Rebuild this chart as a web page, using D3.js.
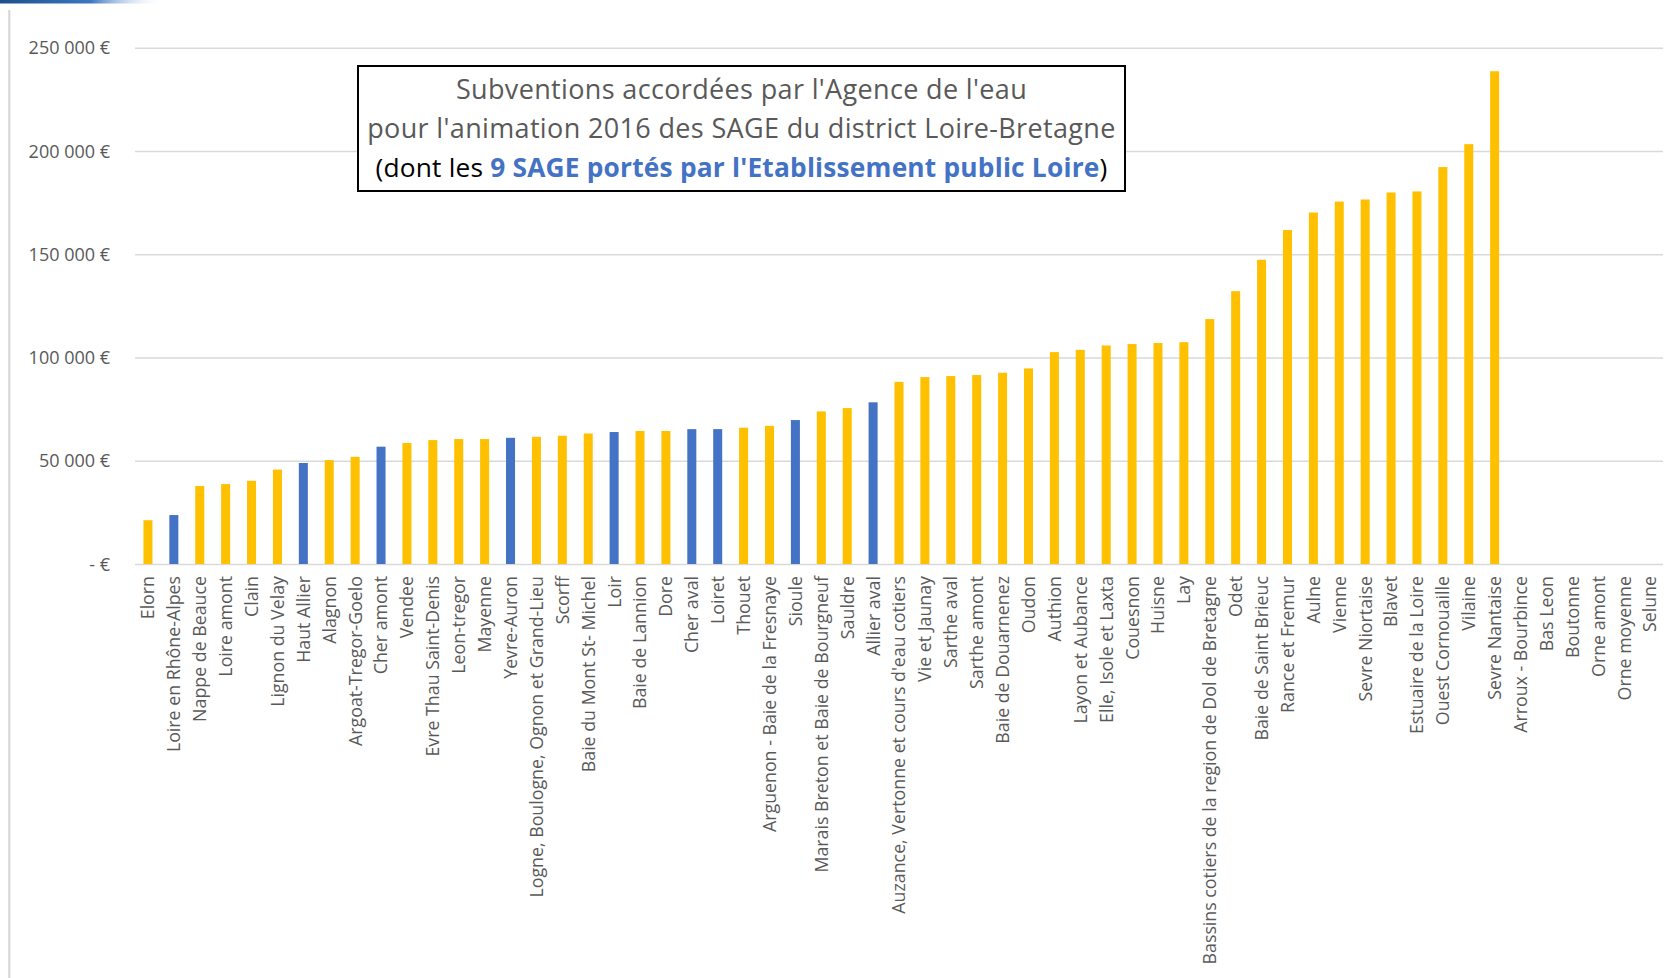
<!DOCTYPE html>
<html>
<head>
<meta charset="utf-8">
<script src="https://cdn.jsdelivr.net/npm/d3@7"></script>
<style>
  html, body { margin: 0; padding: 0; background: #ffffff; }
  svg { display: block; }
</style>
</head>
<body>
<svg id="chart" width="1676" height="978"></svg>
<script>
// ---- DATA ----
const categories = [
  "Elorn", "Loire en Rhône-Alpes", "Nappe de Beauce", "Loire amont", "Clain",
  "Lignon du Velay", "Haut Allier", "Alagnon", "Argoat-Tregor-Goelo", "Cher amont",
  "Vendee", "Evre Thau Saint-Denis", "Leon-tregor", "Mayenne", "Yevre-Auron",
  "Logne, Boulogne, Ognon et Grand-Lieu", "Scorff", "Baie du Mont St- Michel", "Loir", "Baie de Lannion",
  "Dore", "Cher aval", "Loiret", "Thouet", "Arguenon - Baie de la Fresnaye",
  "Sioule", "Marais Breton et Baie de Bourgneuf", "Sauldre", "Allier aval", "Auzance, Vertonne et cours d'eau cotiers",
  "Vie et Jaunay", "Sarthe aval", "Sarthe amont", "Baie de Douarnenez", "Oudon",
  "Authion", "Layon et Aubance", "Elle, Isole et Laxta", "Couesnon", "Huisne",
  "Lay", "Bassins cotiers de la region de Dol de Bretagne", "Odet", "Baie de Saint Brieuc", "Rance et Fremur",
  "Aulne", "Vienne", "Sevre Niortaise", "Blavet", "Estuaire de la Loire",
  "Ouest Cornouaille", "Vilaine", "Sevre Nantaise", "Arroux - Bourbince", "Bas Leon",
  "Boutonne", "Orne amont", "Orne moyenne", "Selune"
];
const values = [
  21200, 23700, 37800, 38700, 40300,
  45700, 48900, 50300, 51900, 56800,
  58600, 60000, 60500, 60500, 61100,
  61600, 62100, 63200, 63900, 64400,
  64400, 65300, 65300, 66000, 66900,
  69700, 73900, 75500, 78300, 88200,
  90500, 91000, 91500, 92600, 94700,
  102600, 103700, 105800, 106500, 107000,
  107400, 118600, 132100, 147300, 161700,
  170200, 175500, 176500, 179900, 180400,
  192200, 203300, 238600, 0, 0,
  0, 0, 0, 0
];
// SAGE portés par l'Etablissement public Loire
const eplSage = ["Loire en Rhône-Alpes", "Haut Allier", "Cher amont", "Yevre-Auron", "Loir",
                 "Cher aval", "Loiret", "Sioule", "Allier aval"];
const yTicks = [0, 50000, 100000, 150000, 200000, 250000];
const yTickLabels = ["- €", "50 000 €", "100 000 €", "150 000 €", "200 000 €", "250 000 €"];
const titleLines = [
  "Subventions accordées par l'Agence de l'eau",
  "pour l'animation 2016 des SAGE du district Loire-Bretagne"
];
const titleLine3 = ["(dont les ", "9 SAGE portés par l'Etablissement public Loire", ")"];

// ---- DRAW ----
const svg = d3.select("#chart");
const W = 1676, H = 978;
const plot = { left: 135, right: 1663, top: 47.7, bottom: 564 };
const FONT = "'Open Sans', 'DejaVu Sans', sans-serif";

// decorative top strip
const defs = svg.append("defs");
const grad = defs.append("linearGradient").attr("id", "topStrip").attr("x1", 0).attr("x2", 1);
grad.append("stop").attr("offset", 0).attr("stop-color", "#1f4e8c");
grad.append("stop").attr("offset", 0.55).attr("stop-color", "#3a78c0");
grad.append("stop").attr("offset", 1).attr("stop-color", "#ffffff").attr("stop-opacity", 0);
svg.append("rect").attr("x", 0).attr("y", 0).attr("width", 165).attr("height", 3.5).attr("fill", "url(#topStrip)");

// left border line
svg.append("line").attr("x1", 9.3).attr("x2", 9.3).attr("y1", 10).attr("y2", H)
  .attr("stroke", "#d4d4d4").attr("stroke-width", 2);

const x = d3.scaleBand().domain(categories).range([plot.left, plot.right])
  .paddingInner(0.652).paddingOuter(0.326);
const y = d3.scaleLinear().domain([0, 250000]).range([plot.bottom, plot.top]);

// gridlines
const yAxis = d3.axisLeft(y).tickValues(yTicks)
  .tickSize(-(plot.right - plot.left))
  .tickPadding(25)
  .tickFormat((d, i) => yTickLabels[i]);
const gy = svg.append("g").attr("transform", `translate(${plot.left},0)`).call(yAxis);
gy.select(".domain").remove();
gy.selectAll(".tick line").attr("stroke", "#d9d9d9").attr("stroke-width", 1.4);
gy.selectAll(".tick text").attr("fill", "#595959").attr("font-family", FONT)
  .attr("font-size", 18).attr("dy", "0.34em");

// bars
svg.append("g").selectAll("rect")
  .data(categories.map((c, i) => ({ c, v: values[i] })).filter(d => d.v > 0))
  .join("rect")
  .attr("x", d => x(d.c))
  .attr("width", x.bandwidth())
  .attr("y", d => y(d.v))
  .attr("height", d => y(0) - y(d.v))
  .attr("fill", d => eplSage.includes(d.c) ? "#4472C4" : "#FFC000");

// x labels
const xAxis = d3.axisBottom(x).tickSize(0).tickPadding(0);
const gx = svg.append("g").attr("transform", `translate(0,${plot.bottom})`).call(xAxis);
gx.select(".domain").remove();
gx.selectAll(".tick text")
  .attr("fill", "#595959").attr("font-family", FONT).attr("font-size", 17.8)
  .attr("text-anchor", "end")
  .attr("transform", "rotate(-90)")
  .attr("x", -12).attr("y", 0).attr("dy", "0.36em");

// title box
const box = { x: 358, y: 66, w: 767, h: 125 };
svg.append("rect").attr("x", box.x).attr("y", box.y).attr("width", box.w).attr("height", box.h)
  .attr("fill", "#ffffff").attr("stroke", "#000000").attr("stroke-width", 2);
const cx = box.x + box.w / 2;
const tg = svg.append("g").attr("font-family", FONT).attr("font-size", 27).attr("text-anchor", "middle");
titleLines.forEach((t, i) => {
  tg.append("text").attr("x", cx).attr("y", 99 + i * 38.5).attr("fill", "#595959")
    .attr("letter-spacing", 0.35).text(t);
});
const t3 = tg.append("text").attr("x", cx).attr("y", 177).attr("fill", "#000000")
  .attr("font-size", 26.3).attr("letter-spacing", 0.2);
t3.append("tspan").text(titleLine3[0]);
t3.append("tspan").attr("fill", "#4472C4").attr("font-weight", "bold").text(titleLine3[1]);
t3.append("tspan").text(titleLine3[2]);
</script>
</body>
</html>
